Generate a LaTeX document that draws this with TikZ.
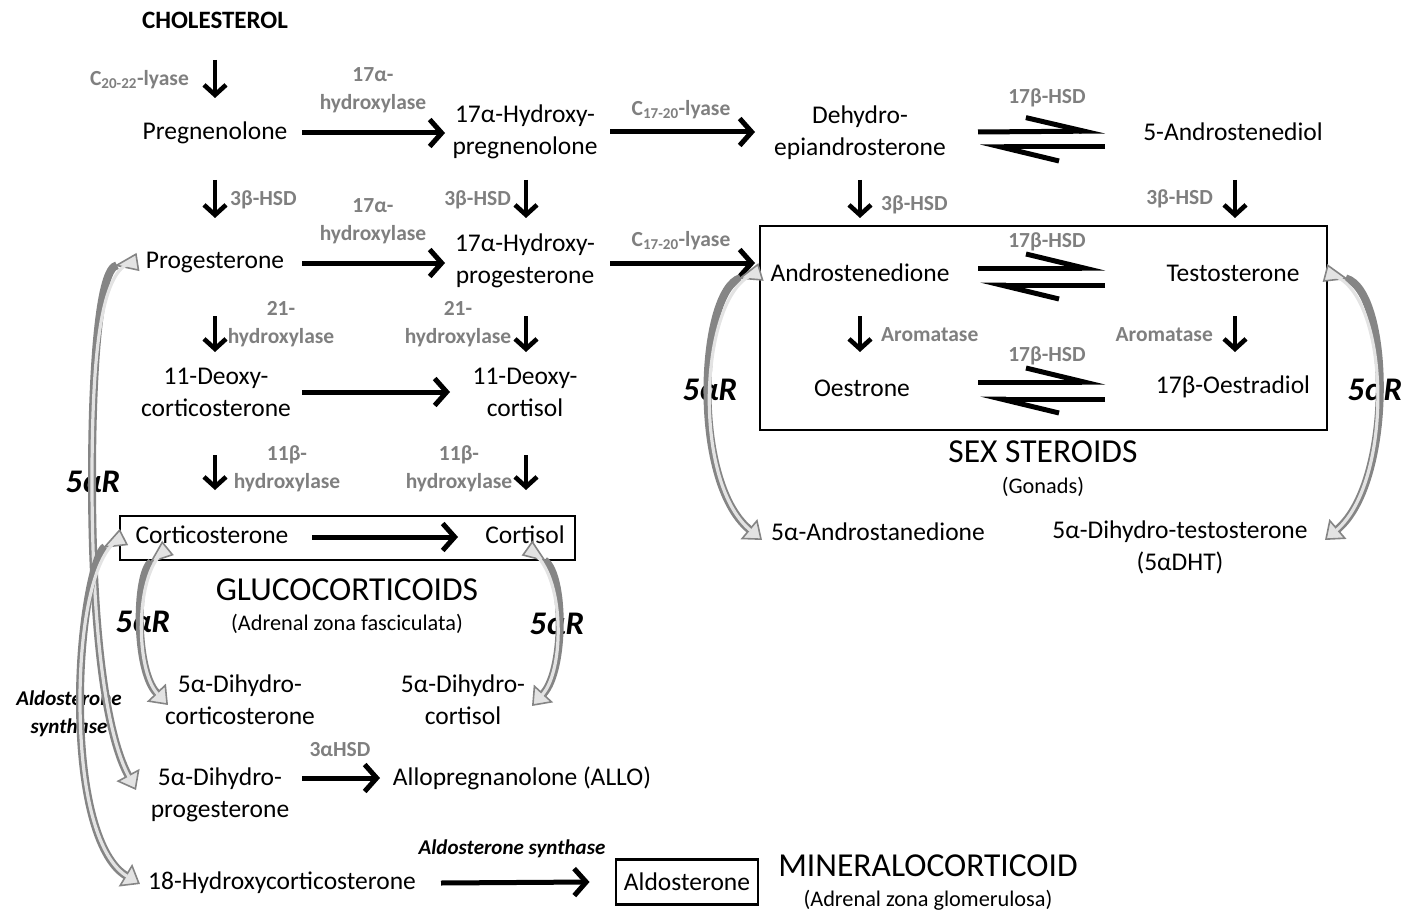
\documentclass[tikz,border=0pt]{standalone}
\usepackage{fontspec}
\setmainfont{Carlito}
\usetikzlibrary{arrows.meta,calc}
\definecolor{enzgray}{HTML}{7F7F7F}
\definecolor{rgray}{HTML}{858585}
\definecolor{rfill}{HTML}{E3E3E3}
\tikzset{
  cmp/.style={font=\fontsize{25.5}{32}\selectfont, align=center, inner sep=0pt},
  ttl/.style={font=\bfseries\fontsize{25}{28}\selectfont, inner sep=0pt},
  enz/.style={font=\bfseries\fontsize{21.5}{28}\selectfont, text=enzgray, align=center, inner sep=0pt},
  ital/.style={font=\bfseries\itshape\fontsize{21}{28}\selectfont, align=center, inner sep=0pt},
  fiveR/.style={font=\bfseries\itshape\fontsize{33}{33}\selectfont, inner sep=0pt},
  grp/.style={font=\fontsize{33.5}{34}\selectfont, inner sep=0pt},
  sub/.style={font=\fontsize{22.3}{24}\selectfont, inner sep=0pt},
  rxn/.style={line width=5, -{Straight Barb[length=12,width=27]}},
  vrxn/.style={line width=4.6, -{Straight Barb[length=10,width=22]}},
  harp/.style={line width=5, -{Straight Barb[harpoon,length=58,width=28]}},
  grpbox/.style={draw, line width=2.8},
  ribout/.style={draw=rgray, line width=8,
    {Triangle[reversed,length=24,width=18,fill=rfill,line width=1.6]}-{Triangle[length=17,width=26,fill=rfill,line width=1.6]}},
  ribin/.style={draw=rfill, line width=3.2, shorten >=15, shorten <=6},
}
% curved 5alpha-reductase style ribbon: grey outline, light core, open head
\newcommand{\ribbon}[1]{\draw[ribout] #1; \draw[ribin] #1;}

\begin{document}
\begin{tikzpicture}[x=1pt,y=-1pt]
\useasboundingbox (0,0) rectangle (1408,912);

% ---------- group boxes ----------
\draw[grpbox] (760,226) rectangle (1327,430);
\draw[grpbox] (120,516) rectangle (575,560);

% ---------- compounds ----------
\node[ttl] (chol) at (215,20) {CHOLESTEROL};
\node[cmp] (preg) at (215,133) {Pregnenolone};
\node[cmp] (hpreg) at (525,132) {17α-Hydroxy-\\pregnenolone};
\node[cmp] (dhea) at (860,133) {Dehydro-\\epiandrosterone};
\node[cmp] (adiol) at (1233,132) {5-Androstenediol};
\node[cmp] (prog) at (215,263) {Progesterone};
\node[cmp] (hprog) at (525,261) {17α-Hydroxy-\\progesterone};
\node[cmp] (andro) at (860,273) {Androstenedione};
\node[cmp] (testo) at (1233,273) {Testosterone};
\node[cmp] (oestrone) at (862,388) {Oestrone};
\node[cmp] (oestradiol) at (1233,387) {17β-Oestradiol};
\node[cmp] (doc) at (216,392) {11-Deoxy-\\corticosterone};
\node[cmp] (dcort) at (525,392) {11-Deoxy-\\cortisol};
\node[cmp] (cortico) at (212,535) {Corticosterone};
\node[cmp] (cortisol) at (525,535) {Cortisol};
\node[cmp] (dhcortico) at (240,700) {5α-Dihydro-\\corticosterone};
\node[cmp] (dhcortisol) at (463,700) {5α-Dihydro-\\cortisol};
\node[cmp] (dhprog) at (220,795) {5α-Dihydro-\\progesterone};
\node[cmp] (allo) at (522,778) {Allopregnanolone (ALLO)};
\node[cmp] (hcortico) at (282,883) {18-Hydroxycorticosterone};
\node[cmp, draw, line width=2.8, inner xsep=8pt, minimum height=45pt] (aldo) at (687,882) {Aldosterone};
\node[cmp] (androdione) at (878,532) {5α-Androstanedione};
\node[cmp] (dht) at (1180,547) {5α-Dihydro-testosterone\\(5αDHT)};

% ---------- group titles ----------
\node[grp] (gluco) at (347,590) {GLUCOCORTICOIDS};
\node[sub] (glucosub) at (347,624) {(Adrenal zona fasciculata)};
\node[grp] (sex) at (1043,452) {SEX STEROIDS};
\node[sub] (sexsub) at (1043,487) {(Gonads)};
\node[grp] (mineral) at (928,866) {MINERALOCORTICOID};
\node[sub] (mineralsub) at (928,900) {(Adrenal zona glomerulosa)};

% ---------- enzymes ----------
\node[enz, anchor=east] (e1) at (189,80) {C\textsubscript{20-22}-lyase};
\node[enz] (e2) at (373,90) {17α-\\hydroxylase};
\node[enz] (e3) at (681,110) {C\textsubscript{17-20}-lyase};
\node[enz] (e4) at (1047,98) {17β-HSD};
\node[enz, anchor=west] (e5) at (230,200) {3β-HSD};
\node[enz] (e6) at (373,221) {17α-\\hydroxylase};
\node[enz, anchor=east] (e7) at (511,200) {3β-HSD};
\node[enz, anchor=west] (e8) at (881,205) {3β-HSD};
\node[enz, anchor=east] (e9) at (1213,199) {3β-HSD};
\node[enz] (e10) at (681,241) {C\textsubscript{17-20}-lyase};
\node[enz] (e11) at (1047,242) {17β-HSD};
\node[enz] (e12) at (281,324) {21-\\hydroxylase};
\node[enz] (e13) at (458,324) {21-\\hydroxylase};
\node[enz, anchor=west] (e14) at (881,335) {Aromatase};
\node[enz, anchor=east] (e15) at (1213,335) {Aromatase};
\node[enz] (e16) at (1047,356) {17β-HSD};
\node[enz] (e17) at (287,469) {11β-\\hydroxylase};
\node[enz] (e18) at (459,469) {11β-\\hydroxylase};
\node[enz] (e19) at (340,750) {3αHSD};
\node[ital] (e20) at (512,849) {Aldosterone synthase};
\node[ital] (e21) at (69,714) {Aldosterone\\synthase};

% ---------- 5alpha-reductase labels ----------
\node[fiveR] (r1) at (93,482) {5αR};
\node[fiveR] (r2) at (143,622) {5αR};
\node[fiveR] (r3) at (557,624) {5αR};
\node[fiveR] (r4) at (710,390) {5αR};
\node[fiveR] (r5) at (1375,390) {5αR};

% ---------- vertical reactions ----------
\draw[vrxn] ($(chol)+(0,40)$) -- ($(preg)+(0,-35)$);
\draw[vrxn] ($(preg)+(0,47)$) -- ($(prog)+(0,-45)$);
\draw[vrxn] ($(hpreg)+(1,48)$) -- ($(hprog)+(1,-43)$);
\draw[vrxn] ($(dhea)+(0,47)$) -- ($(andro)+(0,-55)$);
\draw[vrxn] ($(adiol)+(2,48)$) -- ($(testo)+(2,-55)$);
\draw[vrxn] ($(prog)+(0,53)$) -- ($(doc)+(-1,-40)$);
\draw[vrxn] ($(hprog)+(1,55)$) -- ($(dcort)+(1,-40)$);
\draw[vrxn] ($(andro)+(0,43)$) -- ($(andro |- oestrone)+(0,-36)$);
\draw[vrxn] ($(testo)+(2,43)$) -- ($(testo |- oestradiol)+(2,-35)$);
\draw[vrxn] ($(doc)+(-1,63)$) -- ($(cortico)+(3,-45)$);
\draw[vrxn] ($(dcort)+(1,63)$) -- ($(cortisol)+(1,-45)$);

% ---------- horizontal reactions ----------
\draw[rxn] ($(preg)+(87,0)$) -- ($(hpreg)+(-80,1)$);
\draw[rxn] ($(hpreg)+(85,0)$) -- ($(dhea)+(-105,-1)$);
\draw[rxn] ($(prog)+(87,0)$) -- ($(hprog)+(-80,2)$);
\draw[rxn] ($(hprog)+(85,2)$) -- ($(andro)+(-105,-10)$);
\draw[rxn] ($(doc)+(86,0)$) -- ($(dcort)+(-75,0)$);
\draw[rxn] ($(cortico)+(100,2)$) -- ($(cortisol)+(-67,2)$);
\draw[rxn] ($(dhprog)+(82,-17)$) -- ($(allo)+(-142,0)$);
\draw[rxn] ($(hcortico)+(159,0)$) -- ($(aldo.west)+(-25,0)$);

% ---------- reversible 17beta-HSD steps ----------
\draw[harp] ($(dhea)+(118,-1)$) -- ($(adiol)+(-128,-1)$);
\draw[harp] ($(adiol)+(-128,15)$) -- ($(dhea)+(120,14)$);
\draw[harp] ($(andro)+(118,-5)$) -- ($(testo)+(-128,-5)$);
\draw[harp] ($(testo)+(-128,12)$) -- ($(andro)+(120,12)$);
\draw[harp] ($(oestrone)+(116,-6)$) -- ($(oestradiol)+(-128,-5)$);
\draw[harp] ($(oestradiol)+(-128,12)$) -- ($(oestrone)+(118,11)$);

% ---------- 5alpha-reductase and aldosterone synthase curves ----------
\ribbon{($(prog)+(-77,-1)$) .. controls (100,268) and (92,360) .. (92,480) .. controls (92,620) and (104,730) .. ($(dhprog)+(-84,-5)$)}
\ribbon{($(cortico)+(-88,2)$) .. controls (95,552) and (80,620) .. (80,700) .. controls (80,800) and (100,860) .. ($(hcortico)+(-142,1)$)}
\ribbon{($(cortico)+(-44,13)$) .. controls (135,575) and (135,670) .. ($(dhcortico)+(-72,5)$)}
\ribbon{($(cortisol)+(2,13)$) .. controls (565,575) and (565,670) .. ($(dhcortisol)+(69,6)$)}
\ribbon{($(andro)+(-99,-1)$) .. controls (700,290) and (690,480) .. ($(androdione)+(-116,8)$)}
\ribbon{($(testo)+(92,0)$) .. controls (1390,290) and (1395,480) .. ($(dht)+(145,-7)$)}

\end{tikzpicture}
\end{document}
